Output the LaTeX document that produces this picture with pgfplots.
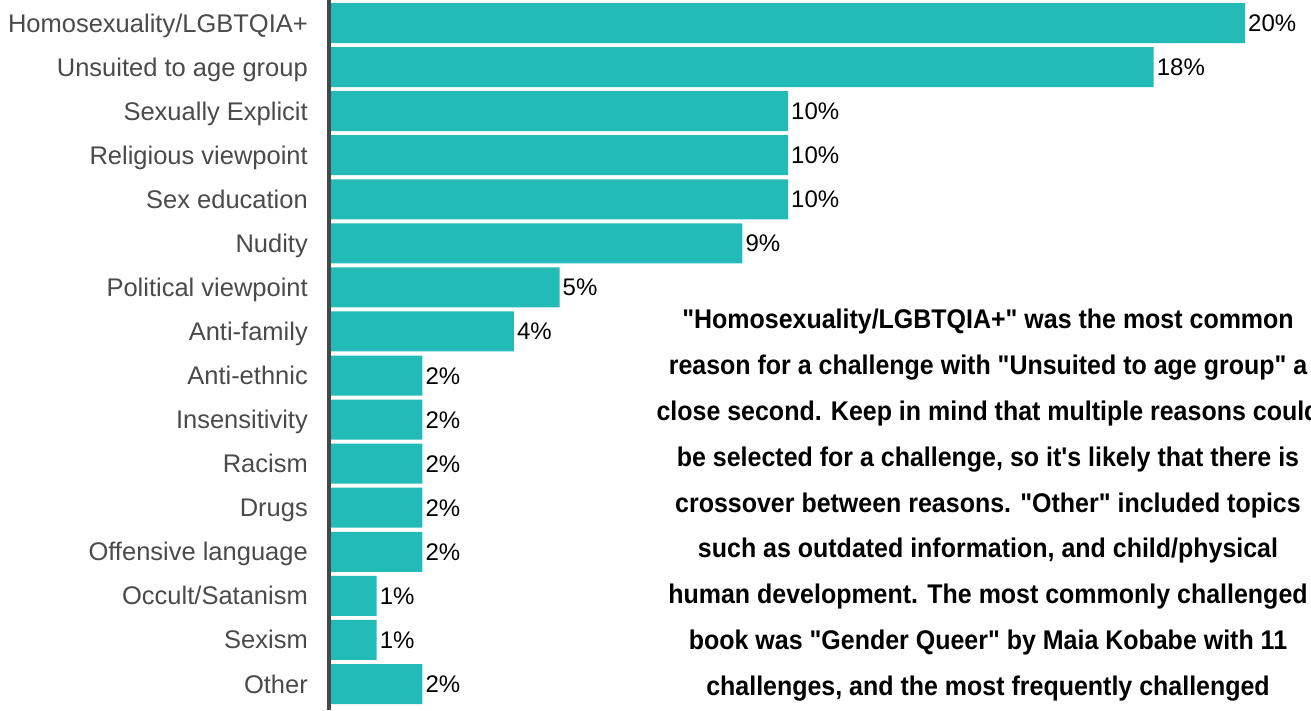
\documentclass[border=0pt]{standalone}
\usepackage{fontspec}
\setmainfont{Liberation Sans}
\newfontfamily\annofont[FakeStretch=0.925]{Liberation Sans}
\usepackage{pgfplots}
\pgfplotsset{compat=1.18}
\definecolor{barteal}{HTML}{23BBB8}
\definecolor{labgray}{HTML}{4A4A4A}
\definecolor{axgray}{HTML}{474747}
\begin{document}
\begin{tikzpicture}
\useasboundingbox (0pt,0pt) rectangle (1311pt,710pt);
\begin{axis}[
  at={(329pt,0pt)}, anchor=south west,
  scale only axis, width=982pt, height=710pt,
  xmin=-0.0438, xmax=21.444,
  ymin=-0.522, ymax=15.59,
  y dir=reverse,
  axis x line=none,
  axis y line*=left,
  y axis line style={line width=4pt, color=axgray},
  xtick=\empty,
  ytick={0,...,15},
  yticklabels={Homosexuality/LGBTQIA+, Unsuited to age group, Sexually Explicit, Religious viewpoint, Sex education, Nudity, Political viewpoint, Anti-family, Anti-ethnic, Insensitivity, Racism, Drugs, Offensive language, Occult/Satanism, Sexism, Other},
  major tick length=0pt,
  yticklabel style={font=\fontsize{25.5}{30}\selectfont, color=labgray, anchor=base east, inner sep=0pt, xshift=-21pt, yshift=-9pt},
  /pgf/number format/assume math mode=true,
  xbar, bar width=40pt,
  point meta=x,
  nodes near coords={\pgfmathprintnumber{\pgfplotspointmeta}\%},
  nodes near coords style={font=\fontsize{24}{28}\selectfont, color=black, anchor=base west, inner sep=0pt, xshift=3pt, yshift=-8.5pt},
  clip=false,
]
\addplot[fill=barteal, draw=none] coordinates {
  (20,0) (18,1) (10,2) (10,3) (10,4) (9,5) (5,6) (4,7)
  (2,8) (2,9) (2,10) (2,11) (2,12) (1,13) (1,14) (2,15)
};
\end{axis}
\begin{scope}[every node/.style={anchor=base, inner sep=0pt, font=\annofont\bfseries\fontsize{27}{32}\selectfont}]
\node at (988pt,381pt) {"Homosexuality/LGBTQIA+" was the most common};
\node at (988pt,335.25pt) {reason for a challenge with "Unsuited to age group" a};
\node at (988pt,289.5pt) {close second. Keep in mind that multiple reasons could};
\node at (988pt,243.75pt) {be selected for a challenge, so it's likely that there is};
\node at (988pt,198pt) {crossover between reasons. "Other" included topics};
\node at (988pt,152.25pt) {such as outdated information, and child/physical};
\node at (988pt,106.5pt) {human development. The most commonly challenged};
\node at (988pt,60.75pt) {book was "Gender Queer" by Maia Kobabe with 11};
\node at (988pt,15pt) {challenges, and the most frequently challenged};
\end{scope}
\end{tikzpicture}
\end{document}
